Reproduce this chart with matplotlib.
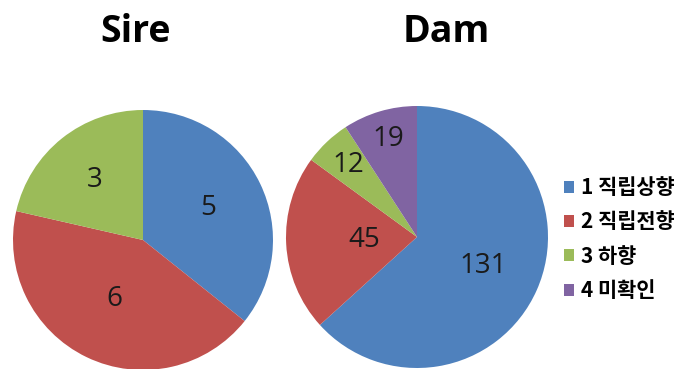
import numpy as np
import matplotlib
matplotlib.use("Agg")
import matplotlib.pyplot as plt
from matplotlib.patches import Patch

categories = ["1 직립상향", "2 직립전향", "3 하향", "4 미확인"]
sire_values = [5, 6, 3]
dam_values = [131, 45, 12, 19]
colors = ["#4F81BD", "#C0504D", "#9BBB59", "#8064A2"]
# label distance (fraction of radius), style only
sire_label_r = [0.56, 0.50, 0.59]
dam_label_r = [0.55, 0.40, 0.76, 0.78]

plt.rcParams['font.family'] = ['Noto Sans CJK KR', 'DejaVu Sans']

W, H = 679, 369
fig = plt.figure(figsize=(W / 100, H / 100), dpi=100)

def add_pie(cx, cy, r, values, label_r):
    ax = fig.add_axes([(cx - r) / W, (H - cy - r) / H, 2 * r / W, 2 * r / H])
    wedges, _ = ax.pie(values, colors=colors[:len(values)], startangle=90,
                       counterclock=False, radius=1, wedgeprops=dict(linewidth=0))
    for w, v, lr in zip(wedges, values, label_r):
        ang = np.deg2rad((w.theta1 + w.theta2) / 2)
        ax.text(lr * np.cos(ang), lr * np.sin(ang), str(v), ha='center', va='center',
                fontsize=20, color="#1a1a1a", family=['Open Sans', 'DejaVu Sans'])
    ax.set_xlim(-1, 1)
    ax.set_ylim(-1, 1)
    ax.set_aspect('auto')
    ax.axis('off')
    return ax

add_pie(143, 240, 130, sire_values, sire_label_r)
add_pie(417, 237, 131, dam_values, dam_label_r)

fig.text(136 / W, 1 - 32 / H, "Sire", ha='center', va='center', fontsize=27,
         fontweight='bold', family=['Open Sans', 'DejaVu Sans'])
fig.text(446 / W, 1 - 32 / H, "Dam", ha='center', va='center', fontsize=27,
         fontweight='bold', family=['Open Sans', 'DejaVu Sans'])

handles = [Patch(facecolor=c, edgecolor='none') for c in colors]
fig.legend(handles, categories, loc='upper left', bbox_to_anchor=(564 / W, 1 - 177 / H),
           frameon=False, handlelength=0.5, handleheight=0.5, handletextpad=0.3,
           labelspacing=0.64, borderpad=0, borderaxespad=0,
           prop=dict(family=['Noto Sans CJK KR', 'DejaVu Sans'], weight='bold', size=15))

fig.savefig("out.png", dpi=100)
